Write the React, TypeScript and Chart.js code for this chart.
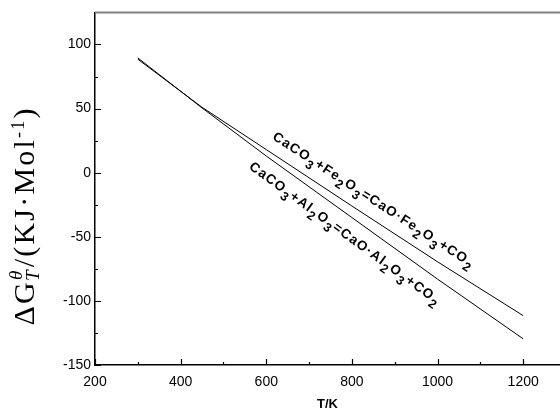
import React, { useEffect, useRef } from "react";
import { Chart, registerables } from "chart.js";

Chart.register(...registerables);

// ---- data ----
const temperatureFe = [300, 450, 600, 800, 1000, 1200];
const deltaGFe = [88.5, 51, 18, -26, -69.5, -111.5];
const temperatureAl = [300, 450, 600, 800, 1000, 1200];
const deltaGAl = [89.5, 50.5, 13, -35, -83, -129.6];

const xTickValues = [200, 400, 600, 800, 1000, 1200];
const xMinorTickValues = [300, 500, 700, 900, 1100];
const yTickValues = [-150, -100, -50, 0, 50, 100];
const yMinorTickValues = [-125, -75, -25, 25, 75];

type Seg = { t: string; sub?: boolean };
const labelFe: Seg[] = [
  { t: "CaCO" }, { t: "3", sub: true }, { t: "+Fe" }, { t: "2", sub: true },
  { t: "O" }, { t: "3", sub: true }, { t: "=CaO·Fe" }, { t: "2", sub: true },
  { t: "O" }, { t: "3", sub: true }, { t: "+CO" }, { t: "2", sub: true },
];
const labelAl: Seg[] = [
  { t: "CaCO" }, { t: "3", sub: true }, { t: "+Al" }, { t: "2", sub: true },
  { t: "O" }, { t: "3", sub: true }, { t: "=CaO·Al" }, { t: "2", sub: true },
  { t: "O" }, { t: "3", sub: true }, { t: "+CO" }, { t: "2", sub: true },
];
// annotation anchors (data coordinates) and angles (degrees)
const labelFeAnchor = { x: 613, y: 26.4, angle: 33 };
const labelAlAnchor = { x: 558, y: 3.4, angle: 36 };

const X_TITLE = "T/K";

const SANS = '"Liberation Sans", Arial, Helvetica, sans-serif';
const SERIF = '"Liberation Serif", "Times New Roman", serif';

function drawRichLabel(ctx: CanvasRenderingContext2D, segs: Seg[]) {
  let x = 0;
  const spacing = 1.2;
  for (const s of segs) {
    ctx.font = `bold ${s.sub ? 12.5 : 13.5}px ${SANS}`;
    const dy = s.sub ? 5.5 : 0;
    for (const ch of s.t) {
      ctx.fillText(ch, x, dy);
      x += ctx.measureText(ch).width + spacing;
    }
  }
}

function drawSpaced(ctx: CanvasRenderingContext2D, t: string, x: number, y: number, sp: number) {
  for (const ch of t) {
    ctx.fillText(ch, x, y);
    x += ctx.measureText(ch).width + sp;
  }
  return x;
}

const customPlugin = {
  id: "custom",
  afterDatasetsDraw(chart: any) {
    const { ctx } = chart;
    const xs = chart.scales.x;
    const ys = chart.scales.y;
    ctx.save();
    ctx.fillStyle = "#000";
    ctx.textBaseline = "alphabetic";
    ctx.textAlign = "left";
    for (const [anchor, segs] of [
      [labelFeAnchor, labelFe],
      [labelAlAnchor, labelAl],
    ] as [any, Seg[]][]) {
      ctx.save();
      ctx.translate(xs.getPixelForValue(anchor.x), ys.getPixelForValue(anchor.y));
      ctx.rotate((anchor.angle * Math.PI) / 180);
      drawRichLabel(ctx, segs);
      ctx.restore();
    }
    ctx.restore();
  },
  afterDraw(chart: any) {
    const { ctx, chartArea } = chart;
    const xs = chart.scales.x;
    const ys = chart.scales.y;
    ctx.save();
    // top frame line
    ctx.strokeStyle = "#808080";
    ctx.lineWidth = 2;
    ctx.beginPath();
    ctx.moveTo(chartArea.left, chartArea.top);
    ctx.lineTo(chart.width, chartArea.top);
    ctx.stroke();

    // inward ticks
    ctx.strokeStyle = "#000";
    ctx.lineWidth = 1.2;
    const b = chartArea.bottom;
    const l = chartArea.left;
    ctx.beginPath();
    for (const v of xTickValues) {
      const p = Math.round(xs.getPixelForValue(v)) + 0.5;
      ctx.moveTo(p, b);
      ctx.lineTo(p, b - 6);
    }
    for (const v of xMinorTickValues) {
      const p = Math.round(xs.getPixelForValue(v)) + 0.5;
      ctx.moveTo(p, b);
      ctx.lineTo(p, b - 3);
    }
    for (const v of yTickValues) {
      const p = Math.round(ys.getPixelForValue(v)) + 0.5;
      ctx.moveTo(l, p);
      ctx.lineTo(l + 6, p);
    }
    for (const v of yMinorTickValues) {
      const p = Math.round(ys.getPixelForValue(v)) + 0.5;
      ctx.moveTo(l, p);
      ctx.lineTo(l + 3, p);
    }
    ctx.stroke();

    // x title
    ctx.fillStyle = "#000";
    ctx.font = `bold 13px ${SANS}`;
    ctx.textAlign = "center";
    ctx.textBaseline = "middle";
    ctx.fillText(X_TITLE, (chartArea.left + chartArea.right) / 2, 404.5);

    // y title (rotated, with sub/superscripts)
    ctx.translate(34, 217);
    ctx.rotate(-Math.PI / 2);
    ctx.textAlign = "left";
    ctx.textBaseline = "alphabetic";
    const big = `30px ${SERIF}`;
    const smallIt = `italic 19px ${SERIF}`;
    const sup = `18px ${SERIF}`;
    const sp = 2.2;
    const measureSpaced = (t: string) => {
      let w = 0;
      for (const ch of t) w += ctx.measureText(ch).width + sp;
      return w;
    };
    ctx.font = big;
    const wDG = measureSpaced("ΔG");
    ctx.font = smallIt;
    const wTh = Math.max(ctx.measureText("θ").width, ctx.measureText("T").width) + sp;
    ctx.font = big;
    const wMid = measureSpaced("/(KJ·Mol");
    ctx.font = sup;
    const wSup = measureSpaced("-1");
    ctx.font = big;
    const wEnd = ctx.measureText(")").width;
    const total = wDG + wTh + wMid + wSup + wEnd;
    let x = -total / 2;
    ctx.font = big;
    x = drawSpaced(ctx, "ΔG", x, 0, sp);
    ctx.font = smallIt;
    ctx.fillText("θ", x, -12.5);
    ctx.fillText("T", x - 1, 5);
    x += wTh;
    ctx.font = big;
    x = drawSpaced(ctx, "/(KJ·Mol", x, 0, sp);
    ctx.font = sup;
    x = drawSpaced(ctx, "-1", x, -10.5, sp);
    ctx.font = big;
    ctx.fillText(")", x, 0);
    ctx.restore();
  },
};

export default function App() {
  const ref = useRef<HTMLCanvasElement | null>(null);
  useEffect(() => {
    if (!ref.current) return;
    const tickFont = { family: SANS, size: 14 };
    const chart = new Chart(ref.current, {
      type: "line",
      data: {
        datasets: [
          {
            label: "CaCO3+Fe2O3=CaO·Fe2O3+CO2",
            data: temperatureFe.map((t, i) => ({ x: t, y: deltaGFe[i] })),
            borderColor: "#000",
            borderWidth: 1,
            pointRadius: 0,
            fill: false,
            tension: 0,
          },
          {
            label: "CaCO3+Al2O3=CaO·Al2O3+CO2",
            data: temperatureAl.map((t, i) => ({ x: t, y: deltaGAl[i] })),
            borderColor: "#000",
            borderWidth: 1,
            pointRadius: 0,
            fill: false,
            tension: 0,
          },
        ],
      },
      options: {
        animation: false,
        responsive: false,
        devicePixelRatio: 1,
        events: [],
        layout: { padding: { top: 11.5, left: 0, right: 0, bottom: 0 } },
        plugins: { legend: { display: false }, tooltip: { enabled: false } },
        scales: {
          x: {
            type: "linear",
            min: 200,
            max: 1286,
            grid: { display: false, drawTicks: false },
            border: { display: true, color: "#000", width: 1.5 },
            ticks: {
              font: tickFont,
              color: "#000",
              padding: 9,
              maxRotation: 0,
              autoSkip: false,
              callback: (v: any) => String(v),
            },
            afterBuildTicks: (s: any) => {
              s.ticks = xTickValues.map((v) => ({ value: v }));
            },
            afterFit: (s: any) => {
              s.height = 46;
            },
          },
          y: {
            type: "linear",
            min: -150,
            max: 125,
            grid: { display: false, drawTicks: false },
            border: { display: true, color: "#000", width: 1.5 },
            ticks: {
              font: tickFont,
              color: "#000",
              padding: 4,
              autoSkip: false,
              callback: (v: any) => String(v),
            },
            afterBuildTicks: (s: any) => {
              s.ticks = yTickValues.map((v) => ({ value: v }));
            },
            afterFit: (s: any) => {
              s.width = 95;
            },
          },
        },
      } as any,
      plugins: [customPlugin],
    });
    return () => chart.destroy();
  }, []);
  return (
    <canvas
      ref={ref}
      width={560}
      height={411}
      style={{ position: "absolute", left: 0, top: 0, background: "#fff" }}
    />
  );
}
